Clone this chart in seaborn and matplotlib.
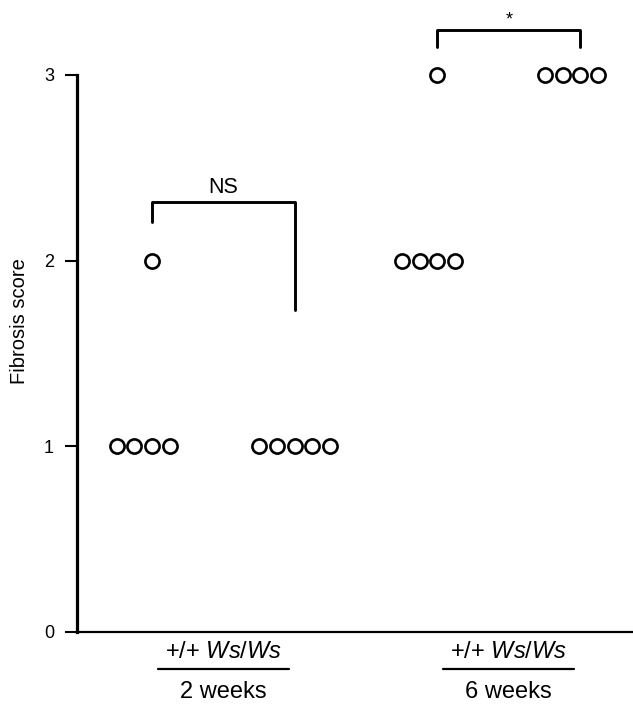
import pandas as pd
import matplotlib.pyplot as plt
import seaborn as sns

# fibrosis scores per mouse
groups = ['2wk +/+', '2wk Ws/Ws', '6wk +/+', '6wk Ws/Ws']
scores_2wk_wt = [2, 1, 1, 1, 1]
scores_2wk_ws = [1, 1, 1, 1, 1]
scores_6wk_wt = [3, 2, 2, 2, 2]
scores_6wk_ws = [3, 3, 3, 3]
yticks = [0, 1, 2, 3]
genotype_label = r'+/+ $\mathit{Ws/Ws}$'
time_labels = ['2 weeks', '6 weeks']
sig_labels = ['NS', '*']

df = pd.DataFrame({
    'group': [groups[0]] * len(scores_2wk_wt) + [groups[1]] * len(scores_2wk_ws)
             + [groups[2]] * len(scores_6wk_wt) + [groups[3]] * len(scores_6wk_ws),
    'score': scores_2wk_wt + scores_2wk_ws + scores_6wk_wt + scores_6wk_ws,
})

sns.set_style('ticks')
plt.rcParams['font.family'] = ['Liberation Sans', 'DejaVu Sans']
plt.rcParams['mathtext.fontset'] = 'custom'
plt.rcParams['mathtext.rm'] = 'Liberation Sans'
plt.rcParams['mathtext.it'] = 'Liberation Sans:italic'
plt.rcParams['text.color'] = 'black'
plt.rcParams['axes.labelcolor'] = 'black'
plt.rcParams['ytick.labelcolor'] = 'black'

fig = plt.figure(figsize=(6.33, 7.04), dpi=100)
ax = fig.add_axes([0.1216, 0.1023, 0.8784, 0.8835])

sns.swarmplot(data=df, x='group', y='score', order=groups, ax=ax,
              color='white', edgecolor='black', linewidth=1.9, size=10.2)

ax.set_xlim(-0.526, 3.37)
ax.set_ylim(0, 3.35)
ax.set_yticks(yticks)
ax.set_xticks([])
ax.set_xlabel('')
ax.set_ylabel('Fibrosis score', fontsize=14.5, labelpad=11)
ax.tick_params(axis='y', length=8.5, width=1.5, pad=8, labelsize=13, color='black')

sns.despine(ax=ax)
ax.spines['left'].set_bounds(0, 3)
ax.spines['left'].set_linewidth(2.3)
ax.spines['left'].set_color('black')
ax.spines['bottom'].set_linewidth(1.6)
ax.spines['bottom'].set_color('black')

# significance brackets
ax.plot([0, 0, 1, 1], [2.21, 2.316, 2.316, 1.734], color='black', lw=2.1, clip_on=False)
ax.text(0.5, 2.335, sig_labels[0], ha='center', va='bottom', fontsize=15.5)
ax.plot([2, 2, 3, 3], [3.15, 3.242, 3.242, 3.15], color='black', lw=2.1, clip_on=False)
ax.text(2.5, 3.25, sig_labels[1], ha='center', va='bottom', fontsize=13)

# group labels under the axis
for i, tl in enumerate(time_labels):
    cx = 0.5 + 2 * i
    ax.text(cx, -0.108, genotype_label, ha='center', va='center', fontsize=17, clip_on=False)
    ax.plot([cx - 0.46, cx + 0.46], [-0.199, -0.199], color='black', lw=1.6, clip_on=False)
    ax.text(cx, -0.323, tl, ha='center', va='center', fontsize=17, clip_on=False)

fig.savefig('out.png', dpi=100)
